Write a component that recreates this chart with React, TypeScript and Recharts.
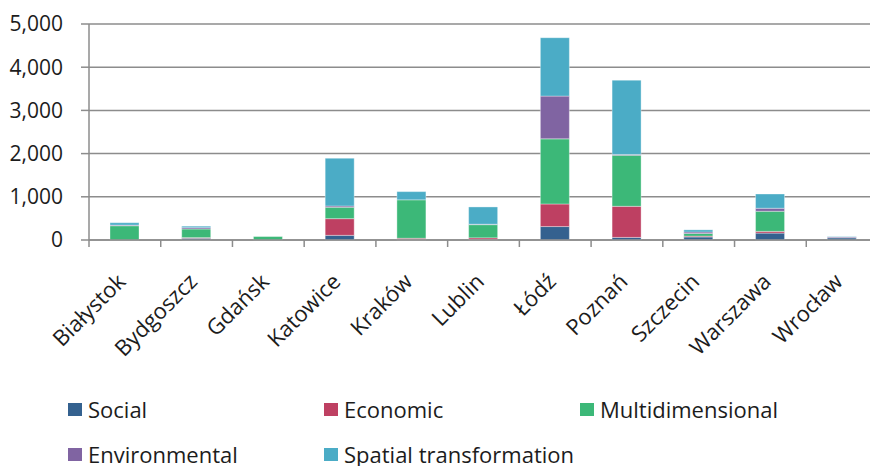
import React from "react";
import { BarChart, Bar, XAxis, YAxis, CartesianGrid, Legend } from "recharts";

const categories = ["Białystok", "Bydgoszcz", "Gdańsk", "Katowice", "Kraków", "Lublin", "Łódź", "Poznań", "Szczecin", "Warszawa", "Wrocław"];
const social = [0, 40, 0, 108, 10, 10, 311, 60, 70, 160, 50];
const economic = [0, 15, 0, 386, 30, 40, 523, 720, 20, 40, 0];
const multidimensional = [330, 200, 80, 264, 890, 305, 1507, 1180, 60, 465, 0];
const environmental = [15, 30, 0, 30, 0, 10, 990, 20, 35, 70, 20];
const spatial = [55, 35, 0, 1105, 190, 400, 1352, 1720, 50, 330, 10];
const yTicks = [0, 1000, 2000, 3000, 4000, 5000];

const seriesNames = ["Social", "Economic", "Multidimensional", "Environmental", "Spatial transformation"];
const seriesKeys = ["social", "economic", "multidimensional", "environmental", "spatial"];
const seriesColors = ["#34618F", "#BE4062", "#3CB878", "#8064A2", "#4BACC6"];

const data = categories.map((c, i) => ({
  name: c,
  social: social[i],
  economic: economic[i],
  multidimensional: multidimensional[i],
  environmental: environmental[i],
  spatial: spatial[i],
}));

const FONT = "'Open Sans', 'Noto Sans', sans-serif";
const AXIS = "#8c8c8c";
const TEXT = "#1c1c1c";

const XTick = (props: any) => {
  const { x, y, payload, index } = props;
  const half = payload && typeof payload.offset === "number" && payload.offset > 0 ? payload.offset : 35.85;
  const ax = x + 2;
  const ay = y + 43;
  return (
    <g>
      <line x1={x - half} x2={x - half} y1={y} y2={y + 7} stroke={AXIS} strokeWidth={1.5} />
      {index === categories.length - 1 && (
        <line x1={x + half} x2={x + half} y1={y} y2={y + 7} stroke={AXIS} strokeWidth={1.5} />
      )}
      <text
        x={ax}
        y={ay}
        textAnchor="end"
        transform={`rotate(-45, ${ax}, ${ay})`}
        fill={TEXT}
        fontSize={22}
        fontFamily={FONT}
      >
        {payload.value}
      </text>
    </g>
  );
};

const LegendContent = () => {
  const cols = [68, 324, 580];
  return (
    <div style={{ position: "relative", width: 870, height: 70, fontFamily: FONT }}>
      {seriesNames.map((n, i) => {
        const col = i % 3;
        const row = Math.floor(i / 3);
        return (
          <div
            key={n}
            style={{
              position: "absolute",
              left: cols[col],
              top: row * 45,
              display: "flex",
              alignItems: "center",
              height: 28,
              whiteSpace: "nowrap",
            }}
          >
            <span style={{ display: "inline-block", width: 14, height: 13, background: seriesColors[i], marginRight: 6 }} />
            <span style={{ fontSize: 22, lineHeight: "28px", color: TEXT }}>{n}</span>
          </div>
        );
      })}
    </div>
  );
};

export default function App() {
  return (
    <div style={{ position: "absolute", top: 0, left: 0, width: 870, height: 466, overflow: "hidden", background: "#fff" }}>
      <BarChart width={880} height={466} data={data} margin={{ top: 24, right: 2, bottom: 0, left: 0 }} barSize={29}>
        <CartesianGrid vertical={false} stroke={AXIS} strokeWidth={1.5} />
        <XAxis
          dataKey="name"
          interval={0}
          height={226}
          tickSize={0}
          tickMargin={0}
          tickLine={false}
          axisLine={{ stroke: AXIS, strokeWidth: 1.5 }}
          tick={<XTick />}
        />
        <YAxis
          width={89}
          domain={[0, 5000]}
          ticks={yTicks}
          interval={0}
          tickSize={8}
          tickMargin={18}
          tickLine={{ stroke: AXIS, strokeWidth: 1.5 }}
          axisLine={{ stroke: AXIS, strokeWidth: 1.5 }}
          tickFormatter={(v: number) => v.toLocaleString("en-US")}
          tick={{ fill: TEXT, fontSize: 21, fontFamily: FONT }}
        />
        <Legend
          layout="horizontal"
          verticalAlign="middle"
          align="center"
          wrapperStyle={{ top: 395, left: 0, width: 870 }}
          content={<LegendContent />}
        />
        {seriesKeys.map((k, i) => (
          <Bar
            key={k}
            dataKey={k}
            name={seriesNames[i]}
            stackId="a"
            fill={seriesColors[i]}
            stroke="#ffffff"
            strokeOpacity={0.35}
            strokeWidth={1}
            isAnimationActive={false}
          />
        ))}
      </BarChart>
    </div>
  );
}
